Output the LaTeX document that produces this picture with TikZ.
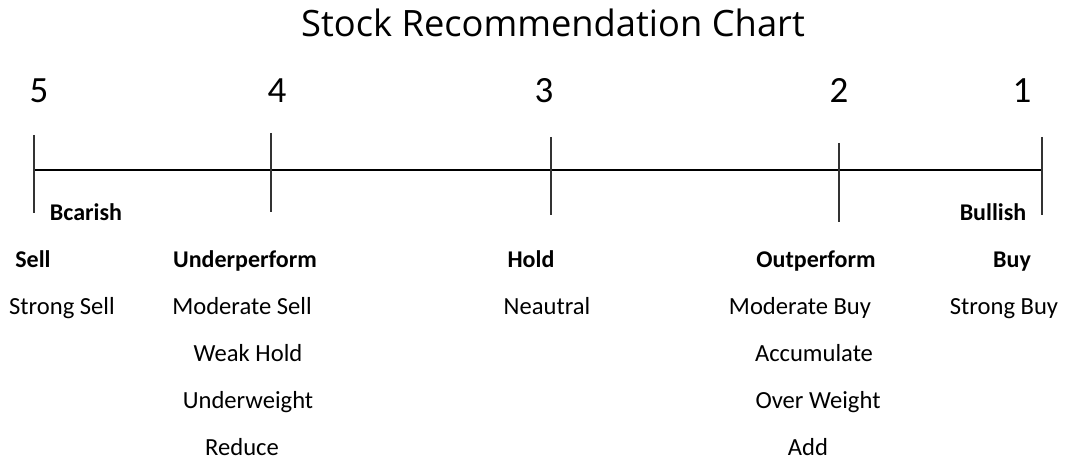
\documentclass[tikz,border=0pt]{standalone}
\usepackage{fontspec}
\setmainfont{Carlito}
\newfontfamily\titlefont{Open Sans}
\begin{document}
\begin{tikzpicture}[x=1pt,y=-1pt,
  lbl/.style={anchor=base,inner sep=0pt,font=\fontsize{24.6}{29}\selectfont},
  blbl/.style={anchor=base,inner sep=0pt,font=\fontsize{24}{29}\selectfont\bfseries},
  num/.style={anchor=base,inner sep=0pt,font=\fontsize{37}{42}\selectfont},
  tickline/.style={line width=1.2pt,draw=black!80},
  axis/.style={line width=2.6pt,draw=black}]
\useasboundingbox (0,0) rectangle (1080,462);
% title
\node[anchor=base,inner sep=0pt,font=\titlefont\fontsize{36.3}{42}\selectfont] (title) at (553,36.5) {Stock Recommendation Chart};
% numbers
\node[num] (n5) at (39,103) {5};
\node[num] (n4) at (277,103) {4};
\node[num] (n3) at (544,103) {3};
\node[num] (n2) at (839,103) {2};
\node[num] (n1) at (1022,103) {1};
% axis
\coordinate (a5) at (34,170);
\coordinate (a1) at (1042,170);
\draw[axis] (a5) -- (a1);
% ticks
\coordinate (t5a) at (34,135);  \coordinate (t5b) at (34,213);
\coordinate (t4a) at (271,133); \coordinate (t4b) at (271,212);
\coordinate (t3a) at (551,137); \coordinate (t3b) at (551,215);
\coordinate (t2a) at (839,143); \coordinate (t2b) at (839,222);
\coordinate (t1a) at (1042,137); \coordinate (t1b) at (1042,215);
\draw[tickline] (t5a) -- (t5b);
\draw[tickline] (t4a) -- (t4b);
\draw[tickline] (t3a) -- (t3b);
\draw[tickline] (t2a) -- (t2b);
\draw[tickline] (t1a) -- (t1b);
% bearish / bullish
\node[blbl] (bear) at (86,221) {Bcarish};
\node[blbl] (bull) at (993,221) {Bullish};
% column 5
\node[blbl] (sell) at (33,267.5) {Sell};
\node[lbl] (ssell) at (62,315) {Strong Sell};
% column 4
\node[blbl] (under) at (245,267.5) {Underperform};
\node[lbl] (msell) at (242,315) {Moderate Sell};
\node[lbl] (whold) at (248,362) {Weak Hold};
\node[lbl] (uweight) at (248,409) {Underweight};
\node[lbl] (reduce) at (242,456) {Reduce};
% column 3
\node[blbl] (hold) at (531,267.5) {Hold};
\node[lbl] (neutral) at (547,315) {Neautral};
% column 2
\node[blbl] (outp) at (816,267.5) {Outperform};
\node[lbl] (mbuy) at (800,315) {Moderate Buy};
\node[lbl] (accum) at (814,362) {Accumulate};
\node[lbl] (oweight) at (818,409) {Over Weight};
\node[lbl] (add) at (808,456) {Add};
% column 1
\node[blbl] (buy) at (1012,267.5) {Buy};
\node[lbl] (sbuy) at (1004,315) {Strong Buy};
\end{tikzpicture}
\end{document}
